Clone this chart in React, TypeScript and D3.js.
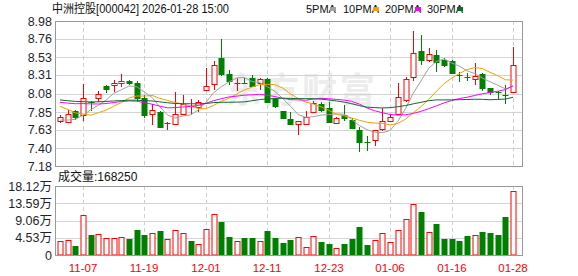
import React from "react";
import * as d3 from "d3";

const dates = [
  "11-04","11-05","11-06","11-07","11-10","11-11","11-12","11-13","11-14","11-17",
  "11-18","11-19","11-20","11-21","11-24","11-25","11-26","11-27","11-28","12-01",
  "12-02","12-03","12-04","12-05","12-08","12-09","12-10","12-11","12-12","12-15",
  "12-16","12-17","12-18","12-19","12-22","12-23","12-24","12-25","12-26","12-29",
  "12-30","12-31","01-05","01-06","01-07","01-08","01-09","01-12","01-13","01-14",
  "01-15","01-16","01-19","01-20","01-21","01-22","01-23","01-26","01-27","01-28",
];
const opens = [
  7.74,7.73,7.86,7.81,7.98,8.02,8.17,8.18,8.21,8.24,
  8.21,8.02,7.83,7.85,7.70,7.70,7.83,7.92,7.91,8.12,
  8.20,8.52,8.32,8.20,8.215,8.27,8.215,8.26,8.01,7.86,
  7.76,7.70,7.70,7.85,7.95,7.90,7.72,7.81,7.75,7.63,
  7.48,7.50,7.64,7.74,7.82,8.00,8.29,8.61,8.50,8.56,
  8.50,8.48,8.31,8.285,8.26,8.32,8.145,8.10,8.06,8.10,
];
const highs = [
  7.81,7.88,7.87,8.20,7.99,8.11,8.19,8.25,8.32,8.25,
  8.23,8.06,7.95,7.86,7.73,8.10,8.06,8.01,8.00,8.40,
  8.48,8.76,8.37,8.27,8.27,8.31,8.275,8.27,8.02,7.86,
  7.85,7.74,7.86,7.99,7.97,7.97,7.79,7.94,7.78,7.66,
  7.55,7.63,7.90,7.83,8.21,8.29,8.85,8.80,8.65,8.62,
  8.52,8.49,8.35,8.33,8.46,8.33,8.15,8.11,8.18,8.66,
];
const lows = [
  7.71,7.72,7.75,7.74,7.86,7.98,8.09,8.10,8.16,8.19,
  7.97,7.78,7.69,7.65,7.63,7.69,7.82,7.81,7.85,8.12,
  8.12,8.30,8.19,8.11,8.20,8.16,8.12,7.96,7.905,7.765,
  7.70,7.565,7.69,7.84,7.85,7.72,7.70,7.74,7.64,7.35,
  7.37,7.43,7.62,7.73,7.81,7.97,8.235,8.44,8.47,8.35,
  8.41,8.32,8.22,8.23,8.19,8.11,8.06,8.00,7.95,8.09,
];
const closes = [
  7.79,7.82,7.79,8.02,7.97,8.07,8.14,8.21,8.24,8.21,
  8.02,7.81,7.87,7.66,7.71,7.82,7.95,7.93,7.97,8.17,
  8.43,8.32,8.23,8.21,8.21,8.17,8.26,7.97,7.92,7.77,
  7.70,7.74,7.79,7.96,7.87,7.73,7.78,7.77,7.65,7.48,
  7.47,7.63,7.74,7.79,8.04,8.26,8.58,8.50,8.57,8.47,
  8.43,8.33,8.30,8.28,8.30,8.15,8.10,8.09,8.05,8.44,
];
// closes of the 29 sessions before 11-04 (only used for the moving averages)
const priorCloses = [
  8.10,8.05,8.12,8.08,8.02,7.98,8.05,8.10,8.06,8.04,
  8.00,7.95,7.98,8.05,8.10,8.02,7.96,8.00,8.06,8.08,
  8.20,8.22,8.15,8.13,7.75,7.82,7.74,7.77,7.63,
];
const volumes = [
  36800,39400,24500,105000,52500,55000,43800,43800,47300,42000,
  65600,52500,56900,63000,42000,65600,57800,36800,28000,67400,
  106800,86700,47300,36800,44600,44600,36800,63000,44600,31500,
  38500,47300,21000,49900,34100,28900,18400,28900,42000,73500,
  26300,39400,56900,33300,64800,93700,133000,112000,59500,81400,
  42000,42000,36800,49900,51600,60400,57800,52500,99800,168250,
];
const volumeUp = [
  1,1,0,1,0,1,1,1,1,0,
  0,0,1,0,1,1,1,0,1,1,
  1,0,0,1,0,0,1,0,0,0,
  0,1,1,1,0,0,1,0,0,0,
  0,1,1,1,1,1,1,0,1,0,
  0,0,0,0,1,0,0,0,0,1,
];
const priceTickLabels = ["7.18","7.40","7.63","7.85","8.08","8.31","8.53","8.76","8.98"];
const volTickLabels = ["0","4.53万","9.06万","13.59万","18.12万"];
const volTickValues = [0,45300,90600,135900,181200];
const xTickLabels = ["11-07","11-19","12-01","12-11","12-23","01-06","01-16","01-28"];
const maNames = ["5PMA","10PMA","20PMA","30PMA"];
const maPeriods = [5,10,20,30];
const maColors = ["#a0a0a0","#f5a000","#ff00ff","#0b6b2e"];
const title = "中洲控股[000042] 2026-01-28 15:00";
const volTitle = "成交量:168250";

export default function App() {
  const W = 578, H = 276;
  const L = 55, R = 522, PT = 21, PB = 166, VT = 186, VB = 255;
  const red = "#ff0000", green = "#008000";
  const x = d3.scalePoint<string>().domain(dates).range([60, 513]);
  const y = d3.scaleLinear().domain([7.18, 8.98]).range([PB, PT]);
  const yv = d3.scaleLinear().domain([0, 181200]).range([VB, VT]);
  const all = priorCloses.concat(closes);
  const n0 = priorCloses.length;
  const ma = maPeriods.map((p) =>
    closes.map((_, i) => d3.mean(all.slice(n0 + i - p + 1, n0 + i + 1)) as number)
  );
  const line = d3.line<number>().x((_, i) => x(dates[i]) as number).y((v) => y(v));
  const px = (d: string) => Math.round(x(d) as number);
  const font = "'Liberation Sans', Arial, 'Noto Sans CJK SC', sans-serif";
  const cjk = "'Liberation Sans', 'Noto Sans CJK SC', sans-serif";
  const crisp = (v: number) => Math.round(v) + 0.5;

  return (
    <svg width={W} height={H} style={{ position: "absolute", left: 0, top: 0, background: "#fff" }}
      fontFamily={font}>
      <rect x={0} y={0} width={W} height={H} fill="#fff" />
      {/* title */}
      <text x={52} y={13} fontSize={12} fill="#111" fontFamily={cjk} textLength={177} lengthAdjust="spacingAndGlyphs">{title}</text>
      {maNames.map((nm, k) => {
        const lx = [306, 343, 385, 427][k];
        return (
          <g key={nm}>
            <text x={lx} y={13} fontSize={11} fill="#111">{nm}</text>
            <rect x={lx + (k === 0 ? 24 : 30)} y={7} width={6} height={4} fill={maColors[k]} />
          </g>
        );
      })}
      {/* watermark */}
      <text x={226} y={103} fontSize={35} fontWeight="bold" fill="#ececec" fontFamily="'Noto Sans CJK SC', sans-serif" letterSpacing={3}>东方财富</text>
      {/* price grid */}
      {priceTickLabels.map((t) => {
        const yy = crisp(y(+t));
        return <line key={t} x1={L} x2={R} y1={yy} y2={yy} stroke="#d4d4d4" />;
      })}
      {xTickLabels.map((d) => (
        <g key={d}>
          <line x1={px(d) + 0.5} x2={px(d) + 0.5} y1={PT} y2={PB} stroke="#cfcfcf" strokeDasharray="4,3" />
          <line x1={px(d) + 0.5} x2={px(d) + 0.5} y1={VT} y2={VB} stroke="#cfcfcf" strokeDasharray="4,3" />
        </g>
      ))}
      {volTickValues.slice(1, -1).map((v) => (
        <line key={v} x1={L} x2={R} y1={crisp(yv(v))} y2={crisp(yv(v))} stroke="#d4d4d4" />
      ))}
      {/* candles */}
      {dates.map((d, i) => {
        const cx = px(d) + 0.5;
        const o = opens[i], c = closes[i];
        const up = c >= o;
        const col = up ? red : green;
        const top = Math.round(y(Math.max(o, c)));
        const bot = Math.round(y(Math.min(o, c)));
        const hi = Math.round(y(highs[i]));
        const lo = Math.round(y(lows[i]));
        const flat = bot - top < 2;
        return (
          <g key={d}>
            <line x1={cx} x2={cx} y1={hi} y2={flat ? lo : top} stroke={col} />
            {!flat && <line x1={cx} x2={cx} y1={bot} y2={lo} stroke={col} />}
            {flat ? (
              <line x1={cx - 3} x2={cx + 3} y1={top + 0.5} y2={top + 0.5} stroke={col} />
            ) : up ? (
              <rect x={cx - 2.5 + 0.5 - 0.5} y={top + 0.5} width={5} height={bot - top} fill="#fff" stroke={red} />
            ) : (
              <rect x={cx - 3} y={top} width={6} height={bot - top + 1} fill={green} />
            )}
          </g>
        );
      })}
      {/* moving averages */}
      {ma.map((vals, k) => (
        <path key={k} d={line(vals) as string} fill="none" stroke={maColors[k]} strokeWidth={1} />
      ))}
      {/* volume bars */}
      {dates.map((d, i) => {
        const cx = px(d);
        const top = Math.round(yv(volumes[i]));
        return volumeUp[i] ? (
          <rect key={d} x={cx - 2 + 0.5 - 0.5} y={top + 0.5} width={5} height={VB - top - 0.5} fill="#fff" stroke={red} />
        ) : (
          <rect key={d} x={cx - 2.5} y={top} width={6} height={VB - top} fill={green} />
        );
      })}
      {/* borders */}
      <rect x={L + 0.5} y={PT + 0.5} width={R - L} height={PB - PT} fill="none" stroke="#999" />
      <rect x={L + 0.5} y={VT + 0.5} width={R - L} height={VB - VT} fill="none" stroke="#999" />
      <line x1={L} x2={R + 1} y1={PB + 0.5} y2={PB + 0.5} stroke="#999" />
      {/* price axis labels */}
      {priceTickLabels.map((t) => (
        <text key={t} x={52} y={y(+t)} dy="0.36em" textAnchor="end" fontSize={12.5} fill="#1f1f2e">{t}</text>
      ))}
      {/* volume axis labels */}
      {volTickLabels.map((t, i) => (
        <text key={t} x={52} y={yv(volTickValues[i])} dy="0.36em" textAnchor="end" fontSize={12.5} fill="#1f1f2e" fontFamily={cjk}>{t}</text>
      ))}
      <text x={58} y={181} fontSize={12} fill="#111" fontFamily={cjk}>{volTitle}</text>
      {/* x labels */}
      {xTickLabels.map((d) => (
        <text key={d} x={px(d)} y={272} textAnchor="middle" fontSize={11.5} fill={red}>{d}</text>
      ))}
    </svg>
  );
}
